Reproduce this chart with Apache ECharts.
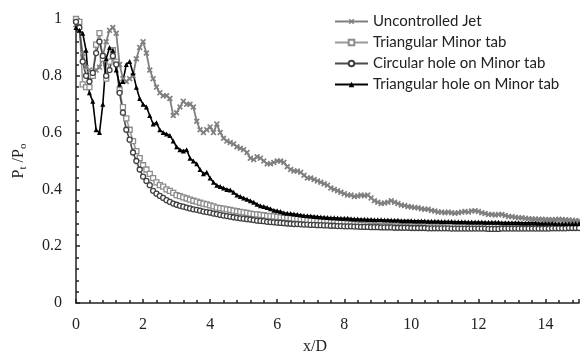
<!DOCTYPE html>
<html lang="en">
<head>
    <meta charset="UTF-8">
    <script src="https://cdn.jsdelivr.net/npm/echarts@6/dist/echarts.min.js"></script>
    <title>Pt_Po_profile</title>
</head>
<body style="margin:0;">
    <div id="chart_1" style="width:580px;height:360px;"></div>
    <script type="text/javascript">
        // x/D samples, 0 .. 15 in steps of 0.1
        var xD = [];
        for (var i = 0; i <= 150; i++) xD.push(+(i / 10).toFixed(1));

        var seriesNames = ['Uncontrolled Jet', 'Triangular Minor tab', 'Circular hole on Minor tab', 'Triangular hole on Minor tab'];

        var uncontrolled = [
            0.98,0.96,0.88,0.83,0.82,0.81,0.82,0.83,0.87,0.92,
            0.96,0.97,0.95,0.84,0.79,0.78,0.79,0.80,0.86,0.90,
            0.92,0.88,0.82,0.79,0.76,0.74,0.73,0.73,0.72,0.66,
            0.67,0.69,0.71,0.70,0.70,0.69,0.64,0.61,0.60,0.61,
            0.62,0.60,0.63,0.60,0.58,0.57,0.565,0.56,0.55,0.545,
            0.54,0.53,0.51,0.505,0.515,0.51,0.50,0.49,0.49,0.495,
            0.50,0.50,0.495,0.48,0.47,0.465,0.465,0.46,0.45,0.44,
            0.44,0.435,0.43,0.425,0.42,0.415,0.405,0.40,0.395,0.39,
            0.385,0.38,0.38,0.375,0.377,0.38,0.378,0.38,0.37,0.36,
            0.355,0.35,0.352,0.355,0.36,0.355,0.35,0.345,0.343,0.34,
            0.338,0.336,0.335,0.332,0.33,0.33,0.326,0.324,0.32,0.32,
            0.318,0.32,0.318,0.316,0.318,0.32,0.322,0.32,0.324,0.325,
            0.322,0.318,0.315,0.312,0.312,0.31,0.312,0.312,0.308,0.305,
            0.304,0.302,0.30,0.30,0.298,0.297,0.296,0.296,0.295,0.295,
            0.294,0.294,0.293,0.294,0.295,0.294,0.293,0.292,0.291,0.29,
            0.29
        ];
        var triMinorTab = [
            1.00,0.99,0.77,0.76,0.76,0.80,0.91,0.95,0.86,0.79,
            0.85,0.89,0.85,0.75,0.69,0.65,0.61,0.57,0.535,0.51,
            0.485,0.47,0.455,0.44,0.425,0.415,0.41,0.40,0.395,0.388,
            0.38,0.376,0.372,0.368,0.364,0.36,0.357,0.353,0.35,0.347,
            0.344,0.34,0.336,0.334,0.332,0.33,0.328,0.325,0.323,0.321,
            0.319,0.317,0.315,0.313,0.312,0.31,0.309,0.307,0.306,0.305,
            0.303,0.302,0.301,0.30,0.298,0.297,0.296,0.295,0.294,0.292,
            0.291,0.29,0.289,0.288,0.287,0.286,0.285,0.284,0.283,0.282,
            0.281,0.28,0.279,0.278,0.277,0.275,0.274,0.273,0.272,0.272,
            0.271,0.271,0.271,0.27,0.27,0.27,0.27,0.27,0.27,0.27,
            0.27,0.27,0.269,0.269,0.27,0.27,0.269,0.269,0.269,0.268,
            0.268,0.269,0.269,0.268,0.268,0.268,0.268,0.267,0.268,0.268,
            0.268,0.267,0.267,0.268,0.268,0.267,0.267,0.267,0.267,0.268,
            0.268,0.268,0.267,0.267,0.267,0.268,0.268,0.267,0.267,0.267,
            0.268,0.268,0.268,0.269,0.269,0.27,0.27,0.27,0.27,0.271,
            0.272
        ];
        var circHole = [
            0.99,0.97,0.85,0.80,0.78,0.81,0.88,0.92,0.87,0.80,
            0.82,0.87,0.84,0.74,0.67,0.61,0.575,0.53,0.50,0.47,
            0.445,0.43,0.415,0.395,0.385,0.377,0.37,0.362,0.356,0.35,
            0.346,0.342,0.339,0.336,0.333,0.33,0.328,0.325,0.322,0.32,
            0.318,0.315,0.313,0.31,0.308,0.306,0.304,0.302,0.30,0.298,
            0.297,0.295,0.294,0.292,0.29,0.289,0.288,0.286,0.285,0.284,
            0.283,0.282,0.281,0.28,0.279,0.278,0.278,0.277,0.276,0.276,
            0.275,0.275,0.274,0.274,0.273,0.273,0.272,0.272,0.271,0.271,
            0.27,0.27,0.27,0.269,0.269,0.268,0.268,0.268,0.267,0.267,
            0.267,0.266,0.266,0.266,0.266,0.265,0.265,0.265,0.265,0.265,
            0.264,0.264,0.264,0.264,0.264,0.263,0.263,0.263,0.263,0.263,
            0.263,0.263,0.262,0.262,0.262,0.262,0.262,0.262,0.262,0.262,
            0.262,0.262,0.262,0.261,0.261,0.261,0.261,0.262,0.262,0.262,
            0.262,0.262,0.262,0.262,0.262,0.262,0.262,0.262,0.262,0.262,
            0.262,0.262,0.263,0.263,0.263,0.263,0.263,0.264,0.264,0.264,
            0.264
        ];
        var triHole = [
            0.97,0.96,0.95,0.89,0.74,0.71,0.61,0.60,0.70,0.86,
            0.90,0.89,0.82,0.77,0.78,0.84,0.85,0.81,0.76,0.72,
            0.70,0.69,0.66,0.63,0.635,0.61,0.60,0.595,0.59,0.57,
            0.55,0.54,0.535,0.54,0.51,0.50,0.49,0.47,0.455,0.46,
            0.44,0.425,0.415,0.41,0.405,0.40,0.398,0.39,0.38,0.375,
            0.37,0.365,0.36,0.355,0.348,0.342,0.34,0.336,0.332,0.327,
            0.325,0.322,0.318,0.316,0.315,0.313,0.312,0.31,0.308,0.307,
            0.306,0.305,0.304,0.303,0.302,0.301,0.30,0.30,0.299,0.298,
            0.298,0.298,0.297,0.296,0.296,0.295,0.295,0.294,0.294,0.293,
            0.293,0.293,0.292,0.292,0.291,0.291,0.291,0.29,0.29,0.29,
            0.29,0.289,0.289,0.289,0.289,0.288,0.288,0.288,0.288,0.287,
            0.287,0.287,0.287,0.286,0.286,0.286,0.286,0.285,0.285,0.285,
            0.285,0.285,0.284,0.284,0.284,0.284,0.284,0.283,0.283,0.283,
            0.283,0.283,0.283,0.282,0.282,0.282,0.282,0.282,0.281,0.281,
            0.281,0.281,0.281,0.28,0.28,0.28,0.28,0.28,0.28,0.28,
            0.28
        ];

        function pairs(ys) {
            return ys.map(function (y, i) { return [xD[i], y]; });
        }

        var xMark = 'path://M0,2L2,0L5,3L8,0L10,2L7,5L10,8L8,10L5,7L2,10L0,8L3,5Z';
        var serif = '"Liberation Serif", "DejaVu Serif", serif';

        var Chart_1 = echarts.init(document.getElementById('chart_1'));
        var option_1 = {
            animation: false,
            backgroundColor: '#fff',
            grid: { left: 76, right: 1, top: 19, bottom: 53 },
            legend: {
                orient: 'vertical',
                left: 329,
                top: 9,
                itemGap: 6,
                itemWidth: 33,
                itemHeight: 7,
                textStyle: { fontFamily: 'Lato, "Open Sans", sans-serif', fontSize: 15, color: '#222' },
                data: seriesNames
            },
            xAxis: {
                type: 'value',
                min: 0, max: 15, interval: 2,
                name: 'x/D',
                nameLocation: 'middle',
                nameGap: 36,
                nameTextStyle: { fontFamily: serif, fontSize: 16, color: '#222', padding: [0, 25, 0, 0] },
                axisLine: { lineStyle: { color: '#222', width: 1.5 } },
                axisTick: { inside: true, length: 4, lineStyle: { color: '#222', width: 1.5 } },
                minorTick: { show: true, splitNumber: 5, length: 3, lineStyle: { color: '#222', width: 1.5 } },
                splitLine: { show: false },
                axisLabel: { fontFamily: serif, fontSize: 16, color: '#222', margin: 14, showMaxLabel: false }
            },
            yAxis: {
                type: 'value',
                min: 0, max: 1, interval: 0.2,
                name: '{a|P}{s|t}{a| /P}{s|o}',
                nameLocation: 'middle',
                nameRotate: 90,
                nameGap: 47,
                nameTextStyle: {
                    rich: {
                        a: { fontFamily: serif, fontSize: 16, color: '#222', lineHeight: 20 },
                        s: { fontFamily: serif, fontSize: 11, color: '#222', lineHeight: 10, verticalAlign: 'bottom' }
                    }
                },
                axisLine: { show: true, lineStyle: { color: '#222', width: 1.5 } },
                axisTick: { show: true, inside: true, length: 4, lineStyle: { color: '#222', width: 1.5 } },
                minorTick: { show: true, splitNumber: 5, length: 3, lineStyle: { color: '#222', width: 1.5 } },
                splitLine: { show: false },
                axisLabel: { fontFamily: serif, fontSize: 16, color: '#222', margin: 14 }
            },
            series: [
                {
                    name: seriesNames[0], type: 'line', data: pairs(uncontrolled),
                    symbol: xMark, symbolSize: 6,
                    lineStyle: { color: '#808080', width: 1.8 },
                    itemStyle: { color: '#808080' }
                },
                {
                    name: seriesNames[1], type: 'line', data: pairs(triMinorTab),
                    symbol: 'rect', symbolSize: 5,
                    lineStyle: { color: '#9a9a9a', width: 1.6 },
                    itemStyle: { color: '#fff', borderColor: '#8c8c8c', borderWidth: 1.3 }
                },
                {
                    name: seriesNames[2], type: 'line', data: pairs(circHole),
                    symbol: 'circle', symbolSize: 5,
                    lineStyle: { color: '#4a4a4a', width: 1.6 },
                    itemStyle: { color: '#fff', borderColor: '#404040', borderWidth: 1.3 }
                },
                {
                    name: seriesNames[3], type: 'line', data: pairs(triHole),
                    symbol: 'triangle', symbolSize: 5,
                    lineStyle: { color: '#000', width: 1.6 },
                    itemStyle: { color: '#000' }
                }
            ]
        };
        Chart_1.setOption(option_1);
    </script>
</body>
</html>
